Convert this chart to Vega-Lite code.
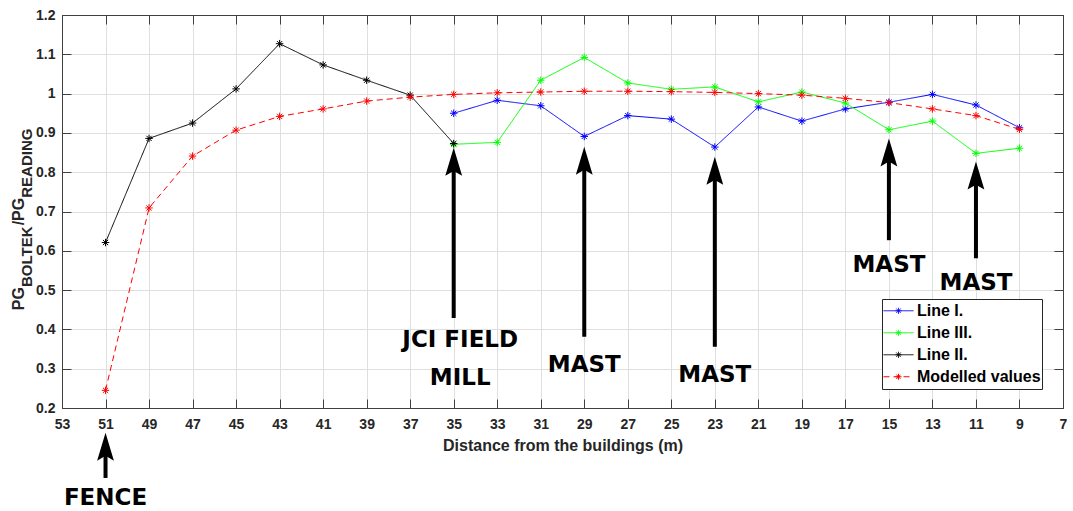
{
  "$schema": "https://vega.github.io/schema/vega-lite/v6.json",
  "width": 1001,
  "height": 393,
  "autosize": {"type": "none"},
  "padding": {"left": 62, "top": 15, "right": 10, "bottom": 103},
  "background": "white",
  "config": {
    "view": {"stroke": "#404040", "strokeWidth": 1},
    "font": "Liberation Sans"
  },
  "datasets": {
    "series": [
      {"s": "Line I.", "d": 35, "v": 0.95},
      {"s": "Line I.", "d": 33, "v": 0.983},
      {"s": "Line I.", "d": 31, "v": 0.969},
      {"s": "Line I.", "d": 29, "v": 0.891},
      {"s": "Line I.", "d": 27, "v": 0.944},
      {"s": "Line I.", "d": 25, "v": 0.935},
      {"s": "Line I.", "d": 23, "v": 0.864},
      {"s": "Line I.", "d": 21, "v": 0.966},
      {"s": "Line I.", "d": 19, "v": 0.93},
      {"s": "Line I.", "d": 17, "v": 0.961},
      {"s": "Line I.", "d": 15, "v": 0.978},
      {"s": "Line I.", "d": 13, "v": 0.998},
      {"s": "Line I.", "d": 11, "v": 0.971},
      {"s": "Line I.", "d": 9, "v": 0.913},
      {"s": "Line III.", "d": 35, "v": 0.871},
      {"s": "Line III.", "d": 33, "v": 0.876},
      {"s": "Line III.", "d": 31, "v": 1.034},
      {"s": "Line III.", "d": 29, "v": 1.092},
      {"s": "Line III.", "d": 27, "v": 1.027},
      {"s": "Line III.", "d": 25, "v": 1.011},
      {"s": "Line III.", "d": 23, "v": 1.017},
      {"s": "Line III.", "d": 21, "v": 0.979},
      {"s": "Line III.", "d": 19, "v": 1.004},
      {"s": "Line III.", "d": 17, "v": 0.976},
      {"s": "Line III.", "d": 15, "v": 0.908},
      {"s": "Line III.", "d": 13, "v": 0.93},
      {"s": "Line III.", "d": 11, "v": 0.848},
      {"s": "Line III.", "d": 9, "v": 0.861},
      {"s": "Line II.", "d": 51, "v": 0.621},
      {"s": "Line II.", "d": 49, "v": 0.886},
      {"s": "Line II.", "d": 47, "v": 0.925},
      {"s": "Line II.", "d": 45, "v": 1.012},
      {"s": "Line II.", "d": 43, "v": 1.127},
      {"s": "Line II.", "d": 41, "v": 1.073},
      {"s": "Line II.", "d": 39, "v": 1.034},
      {"s": "Line II.", "d": 37, "v": 0.996},
      {"s": "Line II.", "d": 35, "v": 0.873},
      {"s": "Modelled values", "d": 51, "v": 0.245},
      {"s": "Modelled values", "d": 49, "v": 0.709},
      {"s": "Modelled values", "d": 47, "v": 0.841},
      {"s": "Modelled values", "d": 45, "v": 0.907},
      {"s": "Modelled values", "d": 43, "v": 0.942},
      {"s": "Modelled values", "d": 41, "v": 0.961},
      {"s": "Modelled values", "d": 39, "v": 0.981},
      {"s": "Modelled values", "d": 37, "v": 0.991},
      {"s": "Modelled values", "d": 35, "v": 0.998},
      {"s": "Modelled values", "d": 33, "v": 1.002},
      {"s": "Modelled values", "d": 31, "v": 1.004},
      {"s": "Modelled values", "d": 29, "v": 1.006},
      {"s": "Modelled values", "d": 27, "v": 1.006},
      {"s": "Modelled values", "d": 25, "v": 1.005},
      {"s": "Modelled values", "d": 23, "v": 1.003},
      {"s": "Modelled values", "d": 21, "v": 1.0},
      {"s": "Modelled values", "d": 19, "v": 0.996},
      {"s": "Modelled values", "d": 17, "v": 0.988},
      {"s": "Modelled values", "d": 15, "v": 0.977},
      {"s": "Modelled values", "d": 13, "v": 0.961},
      {"s": "Modelled values", "d": 11, "v": 0.944},
      {"s": "Modelled values", "d": 9, "v": 0.909}
    ],
    "arrows": [
      {"x": 35, "tip": 0.862, "base": 0.429},
      {"x": 29, "tip": 0.865, "base": 0.381},
      {"x": 23, "tip": 0.839, "base": 0.356},
      {"x": 15, "tip": 0.886, "base": 0.627},
      {"x": 11, "tip": 0.827, "base": 0.581},
      {"x": 51, "tip": 0.137, "base": 0.022}
    ],
    "notes": [
      {"x": 34.7, "y": 0.373, "label": "JCI FIELD"},
      {"x": 34.7, "y": 0.276, "label": "MILL"},
      {"x": 29, "y": 0.309, "label": "MAST"},
      {"x": 23, "y": 0.284, "label": "MAST"},
      {"x": 15, "y": 0.564, "label": "MAST"},
      {"x": 11, "y": 0.517, "label": "MAST"},
      {"x": 51, "y": -0.030, "label": "FENCE"}
    ],
    "ytitle": [{"x": 54.75, "y": 0.449}]
  },
  "layer": [
    {
      "data": {"name": "series"},
      "mark": {"type": "line", "strokeWidth": 1},
      "encoding": {
        "x": {"field": "d", "type": "quantitative", "scale": {"domain": [7, 53], "reverse": true},
          "axis": {"orient": "bottom", "values": [53,51,49,47,45,43,41,39,37,35,33,31,29,27,25,23,21,19,17,15,13,11,9,7],
            "title": "Distance from the buildings (m)", "grid": true, "gridColor": "#dfdfdf", "gridWidth": 1,
            "tickSize": -9, "tickColor": "#404040", "domainColor": "#404040", "labelFlush": false, "labelOverlap": false,
            "labelPadding": 18, "labelFont": "Liberation Sans", "labelFontSize": 14, "labelFontWeight": "bold", "labelColor": "#262626",
            "titleFont": "Liberation Sans", "titleFontSize": 16, "titleFontWeight": "bold", "titleColor": "#262626",
            "titleBaseline": "alphabetic", "titleY": 42}},
        "y": {"field": "v", "type": "quantitative", "scale": {"domain": [0.2, 1.2]},
          "axis": {"orient": "left", "values": [0.2,0.3,0.4,0.5,0.6,0.7,0.8,0.9,1.0,1.1,1.2], "format": ".1~f",
            "title": null, "grid": true, "gridColor": "#dfdfdf", "gridWidth": 1,
            "tickSize": -9, "tickColor": "#404040", "domainColor": "#404040", "labelFlush": false, "labelOverlap": false,
            "labelPadding": 16, "labelFont": "Liberation Sans", "labelFontSize": 14, "labelFontWeight": "bold", "labelColor": "#262626"}},
        "color": {"field": "s", "type": "nominal",
          "scale": {"domain": ["Line I.", "Line III.", "Line II.", "Modelled values"], "range": ["#0000ff", "#00ff00", "#000000", "#ff0000"]},
          "legend": {"title": null, "orient": "none", "legendX": 820, "legendY": 284, "fillColor": "white", "strokeColor": "#262626",
            "padding": 1, "labelFont": "Liberation Sans", "labelFontSize": 16, "labelFontWeight": "bold", "labelColor": "#000000",
            "symbolType": "M-1,0L1,0M-0.2,0L0.2,0M-0.15,-0.15L0.15,0.15M-0.15,0.15L0.15,-0.15M0,-0.2L0,0.2",
            "symbolSize": 900, "symbolStrokeWidth": 1, "rowPadding": 0, "clipHeight": 21.5, "labelOffset": 3, "cornerRadius": 0, "labelLimit": 0}},
        "strokeDash": {"field": "s", "type": "nominal",
          "scale": {"domain": ["Line I.", "Line III.", "Line II.", "Modelled values"], "range": [[1, 0], [1, 0], [1, 0], [6, 4]]},
          "legend": {"title": null, "orient": "none", "legendX": 820, "legendY": 284, "fillColor": "white", "strokeColor": "#262626",
            "padding": 1, "labelFont": "Liberation Sans", "labelFontSize": 16, "labelFontWeight": "bold", "labelColor": "#000000",
            "symbolType": "M-1,0L1,0M-0.2,0L0.2,0M-0.15,-0.15L0.15,0.15M-0.15,0.15L0.15,-0.15M0,-0.2L0,0.2",
            "symbolSize": 900, "symbolStrokeWidth": 1, "rowPadding": 0, "clipHeight": 21.5, "labelOffset": 3, "cornerRadius": 0, "labelLimit": 0}}
      }
    },
    {
      "data": {"name": "series"},
      "mark": {"type": "point", "shape": "M-1,0L1,0M0,-1L0,1M-0.7,-0.7L0.7,0.7M-0.7,0.7L0.7,-0.7", "size": 56, "filled": false, "strokeWidth": 1, "opacity": 1},
      "encoding": {
        "x": {"field": "d", "type": "quantitative", "scale": {"domain": [7, 53], "reverse": true}, "axis": null},
        "y": {"field": "v", "type": "quantitative", "scale": {"domain": [0.2, 1.2]}, "axis": null},
        "color": {"field": "s", "type": "nominal",
          "scale": {"domain": ["Line I.", "Line III.", "Line II.", "Modelled values"], "range": ["#0000ff", "#00ff00", "#000000", "#ff0000"]},
          "legend": {"title": null, "orient": "none", "legendX": 820, "legendY": 284, "fillColor": "white", "strokeColor": "#262626",
            "padding": 1, "labelFont": "Liberation Sans", "labelFontSize": 16, "labelFontWeight": "bold", "labelColor": "#000000",
            "symbolType": "M-1,0L1,0M-0.2,0L0.2,0M-0.15,-0.15L0.15,0.15M-0.15,0.15L0.15,-0.15M0,-0.2L0,0.2",
            "symbolSize": 900, "symbolStrokeWidth": 1, "rowPadding": 0, "clipHeight": 21.5, "labelOffset": 3, "cornerRadius": 0, "labelLimit": 0}}
      }
    },
    {
      "data": {"name": "arrows"},
      "mark": {"type": "rule", "strokeWidth": 4, "color": "black", "y2Offset": 14},
      "encoding": {
        "x": {"field": "x", "type": "quantitative", "scale": {"domain": [7, 53], "reverse": true},
          "axis": {"orient": "top", "values": [53,51,49,47,45,43,41,39,37,35,33,31,29,27,25,23,21,19,17,15,13,11,9,7],
            "labels": false, "title": null, "grid": false, "tickSize": -9, "tickColor": "#404040", "domainColor": "#404040"}},
        "y": {"field": "base", "type": "quantitative", "scale": {"domain": [0.2, 1.2]},
          "axis": {"orient": "right", "values": [0.2,0.3,0.4,0.5,0.6,0.7,0.8,0.9,1.0,1.1,1.2],
            "labels": false, "title": null, "grid": false, "tickSize": -9, "tickColor": "#404040", "domainColor": "#404040"}},
        "y2": {"field": "tip"}
      }
    },
    {
      "data": {"name": "arrows"},
      "mark": {"type": "point", "shape": "M0,0L0.6,2L0,1.65L-0.6,2Z", "size": 784, "filled": true, "color": "black", "opacity": 1, "strokeWidth": 0},
      "encoding": {
        "x": {"field": "x", "type": "quantitative", "scale": {"domain": [7, 53], "reverse": true}, "axis": null},
        "y": {"field": "tip", "type": "quantitative", "scale": {"domain": [0.2, 1.2]}, "axis": null}
      }
    },
    {
      "data": {"name": "notes"},
      "mark": {"type": "text", "font": "DejaVu Sans", "fontWeight": "bold", "fontSize": 23, "color": "black", "baseline": "middle", "align": "center"},
      "encoding": {
        "x": {"field": "x", "type": "quantitative", "scale": {"domain": [7, 53], "reverse": true}, "axis": null},
        "y": {"field": "y", "type": "quantitative", "scale": {"domain": [0.2, 1.2]}, "axis": null},
        "text": {"field": "label"}
      }
    },
    {
      "data": {"name": "ytitle"},
      "mark": {"type": "text", "text": "PG", "angle": 270, "align": "left", "baseline": "alphabetic", "font": "Liberation Sans", "fontWeight": "bold", "fontSize": 16, "color": "#262626"},
      "encoding": {
        "x": {"field": "x", "type": "quantitative", "scale": {"domain": [7, 53], "reverse": true}, "axis": null},
        "y": {"field": "y", "type": "quantitative", "scale": {"domain": [0.2, 1.2]}, "axis": null}
      }
    },
    {
      "data": {"name": "ytitle"},
      "mark": {"type": "text", "text": "BOLTEK", "angle": 270, "align": "left", "baseline": "alphabetic", "dx": 23.1, "dy": 8, "font": "Liberation Sans", "fontWeight": "bold", "fontSize": 15, "color": "#262626"},
      "encoding": {
        "x": {"field": "x", "type": "quantitative", "scale": {"domain": [7, 53], "reverse": true}, "axis": null},
        "y": {"field": "y", "type": "quantitative", "scale": {"domain": [0.2, 1.2]}, "axis": null}
      }
    },
    {
      "data": {"name": "ytitle"},
      "mark": {"type": "text", "text": "/PG", "angle": 270, "align": "left", "baseline": "alphabetic", "dx": 84.8, "font": "Liberation Sans", "fontWeight": "bold", "fontSize": 16, "color": "#262626"},
      "encoding": {
        "x": {"field": "x", "type": "quantitative", "scale": {"domain": [7, 53], "reverse": true}, "axis": null},
        "y": {"field": "y", "type": "quantitative", "scale": {"domain": [0.2, 1.2]}, "axis": null}
      }
    },
    {
      "data": {"name": "ytitle"},
      "mark": {"type": "text", "text": "READING", "angle": 270, "align": "left", "baseline": "alphabetic", "dx": 112.4, "dy": 8, "font": "Liberation Sans", "fontWeight": "bold", "fontSize": 15, "color": "#262626"},
      "encoding": {
        "x": {"field": "x", "type": "quantitative", "scale": {"domain": [7, 53], "reverse": true}, "axis": null},
        "y": {"field": "y", "type": "quantitative", "scale": {"domain": [0.2, 1.2]}, "axis": null}
      }
    }
  ],
  "resolve": {"axis": {"x": "independent", "y": "independent"}}
}
